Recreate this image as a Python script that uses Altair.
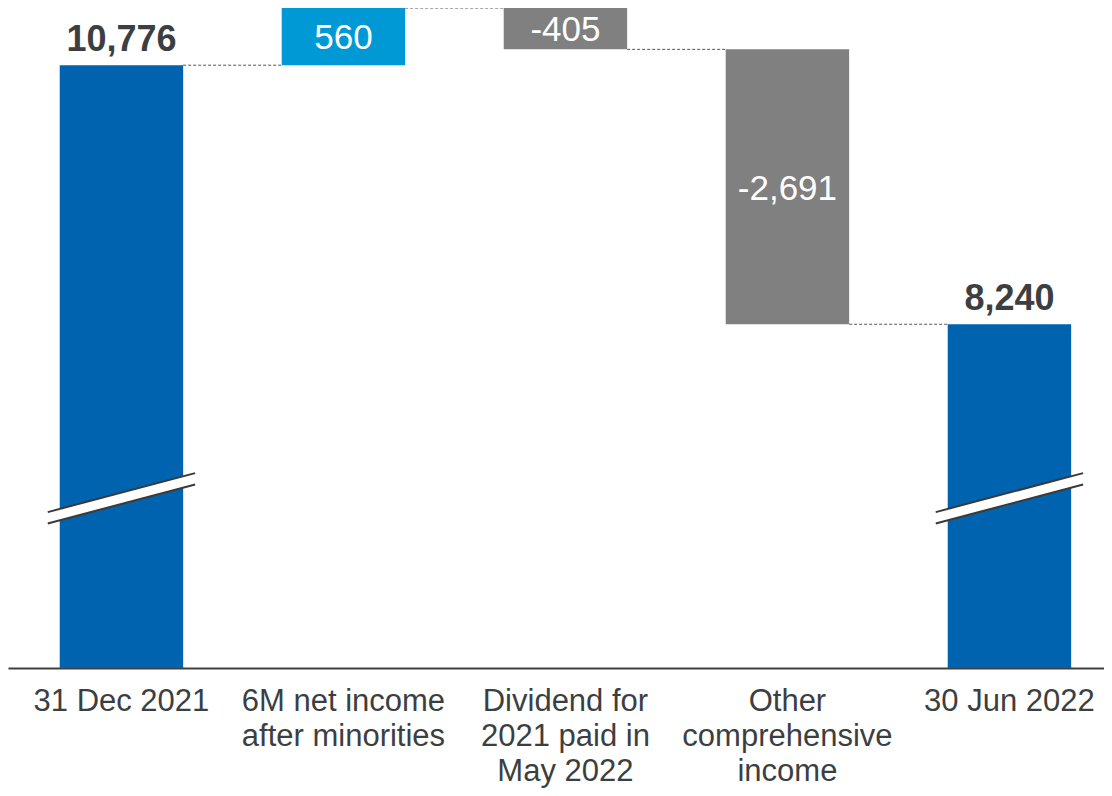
import altair as alt
import pandas as pd

categories = ["31 Dec 2021", "6M net income\nafter minorities", "Dividend for\n2021 paid in\nMay 2022",
              "Other\ncomprehensive\nincome", "30 Jun 2022"]
values = [10776, 560, -405, -2691, 8240]
kinds = ["total", "increase", "decrease", "decrease", "total"]
colors = {"total": "#0063AF", "increase": "#0099D6", "decrease": "#808080"}

axis_min = 4875
axis_max = 11336
bar_half = 0.278
break_cats = [0, 4]
break_low = [6290, 6672]   # lower edge of the axis-break band at left / right
break_gap = 111
break_half = 0.332

rows = []
running = 0
for i, (c, v, k) in enumerate(zip(categories, values, kinds)):
    if k == "total":
        start, end = axis_min, v
        running = v
    else:
        start, end = running, running + v
        running = running + v
    rows.append(dict(idx=i, cat=c, kind=k, start=start, end=end, bottom=axis_min,
                     x0=i - bar_half, x1=i + bar_half,
                     label=f"{v:,}", mid=(start + end) / 2, color=colors[k]))
df = pd.DataFrame(rows)

conn = []
for i in range(len(rows) - 1):
    conn.append(dict(x0=i + bar_half, x1=i + 1 - bar_half, y=rows[i]["end"]))
conn_df = pd.DataFrame(conn)

mid_rows = []
edge = []
for b in break_cats:
    mid_rows.append(dict(x0=b - break_half, x1=b + break_half,
                         y0=break_low[0] + break_gap / 2, y1=break_low[1] + break_gap / 2))
    for off in (0, break_gap):
        edge.append(dict(x0=b - break_half, x1=b + break_half,
                         y0=break_low[0] + off, y1=break_low[1] + off))
mid_df = pd.DataFrame(mid_rows)
edge_df = pd.DataFrame(edge)

xscale = alt.Scale(domain=[-0.511, 4.426], nice=False, zero=False)
yscale = alt.Scale(domain=[axis_min, axis_max], nice=False, zero=False)


def X(field):
    return alt.X(field, type="quantitative", scale=xscale,
                 axis=alt.Axis(labels=False, ticks=False, grid=False, domainColor="#404040",
                               domainWidth=2, title=None))


def Y(field):
    return alt.Y(field, type="quantitative", scale=yscale, axis=None)


bars = alt.Chart(df).mark_bar().encode(
    x=X("x0"), x2="x1", y=Y("start"), y2="end",
    color=alt.Color("color:N", scale=None),
)

cat_labels = alt.Chart(df).mark_text(fontSize=31, color="#3C3F42", baseline="alphabetic", dy=43,
                                     lineBreak="\n", lineHeight=35, font="Liberation Sans").encode(
    x=X("idx"), y=Y("bottom"), text="cat:N")

tot_labels = alt.Chart(df).transform_filter("datum.kind == 'total'").mark_text(
    fontSize=36, fontWeight="bold", color="#3C3F42", baseline="alphabetic", dy=-14.5,
    font="Liberation Sans").encode(x=X("idx"), y=Y("end"), text="label:N")

delta_labels = alt.Chart(df).transform_filter("datum.kind != 'total'").mark_text(
    fontSize=35, color="white", baseline="alphabetic", dy=12.7, font="Liberation Sans").encode(
    x=X("idx"), y=Y("mid"), text="label:N")

connectors = alt.Chart(conn_df).mark_rule(color="#555555", strokeWidth=1, strokeDash=[3, 2]).encode(
    x=X("x0"), x2="x1", y=Y("y"))

brk_fill = alt.Chart(mid_df).mark_rule(color="white", strokeWidth=11, strokeCap="butt").encode(
    x=X("x0"), x2="x1", y=Y("y0"), y2="y1")

brk_edges = alt.Chart(edge_df).mark_rule(color="#3A3A3A", strokeWidth=2).encode(
    x=X("x0"), x2="x1", y=Y("y0"), y2="y1")

chart = alt.layer(connectors, bars, brk_fill, brk_edges, tot_labels, delta_labels, cat_labels).properties(
    width=1096, height=660,
    autosize=alt.AutoSizeParams(type="none"),
    padding={"left": 0, "top": 0, "right": 0, "bottom": 120},
).configure_view(stroke=None)

chart.save("out.html", embed_options={"renderer": "svg", "actions": False})
